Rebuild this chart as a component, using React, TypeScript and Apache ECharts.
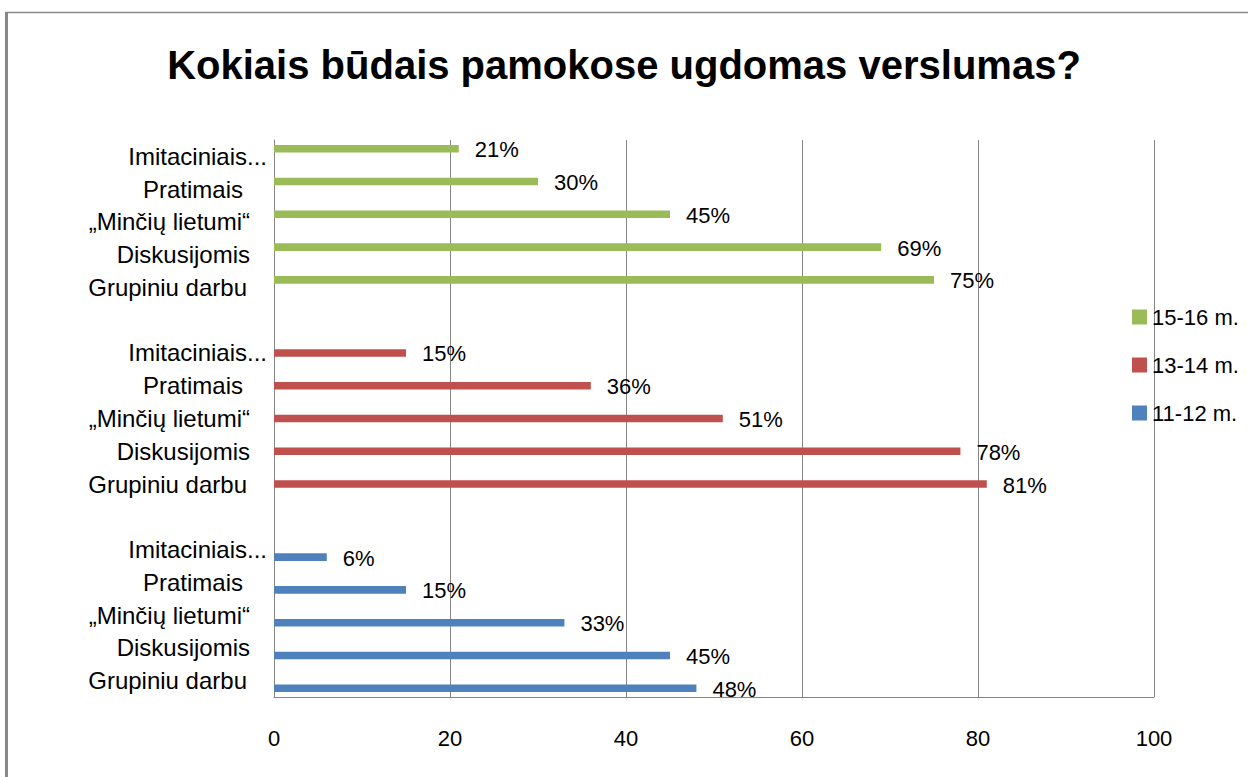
import React, { useEffect, useRef } from "react";
import * as echarts from "echarts";

// Method names, bottom to top within each age group
const methods = ["Grupiniu darbu", "Diskusijomis", "„Minčių lietumi“", "Pratimais", "Imitaciniais..."];
// Age groups (legend order, top to bottom)
const groups = ["15-16 m.", "13-14 m.", "11-12 m."];
// Values (%) per group, in the same order as methods
const values1516 = [75, 69, 45, 30, 21];
const values1314 = [81, 78, 51, 36, 15];
const values1112 = [48, 45, 33, 15, 6];
const colors = ["#9BBB59", "#C0504D", "#4F81BD"];
const xTicks = [0, 20, 40, 60, 80, 100];

// Build 17 category slots: blue group, blank, red group, blank, green group (bottom to top)
const categories: string[] = [...methods, "", ...methods, "", ...methods];
const pad = (arr: number[], start: number) => {
  const out: (number | null)[] = new Array(categories.length).fill(null);
  arr.forEach((v, i) => (out[start + i] = v));
  return out;
};
const seriesData = [pad(values1516, 12), pad(values1314, 6), pad(values1112, 0)];

const labelPad: Record<string, number> = {
  "Grupiniu darbu": 20,
  "Diskusijomis": 17,
  "„Minčių lietumi“": 17,
  "Pratimais": 24,
  "Imitaciniais...": 0,
};

export default function App() {
  const ref = useRef<HTMLDivElement>(null);
  useEffect(() => {
    if (!ref.current) return;
    const chart = echarts.init(ref.current, undefined, { renderer: "svg" });
    const font = "Liberation Sans";
    const rich: Record<string, any> = {};
    methods.forEach((m, i) => {
      rich["p" + i] = { padding: [0, labelPad[m], 0, 0], fontSize: 24, fontFamily: font, color: "#000" };
    });
    chart.setOption({
      animation: false,
      backgroundColor: "#fff",
      title: {
        text: "Kokiais būdais pamokose ugdomas verslumas?",
        left: "center",
        top: 40,
        textStyle: { fontFamily: font, fontSize: 40, fontWeight: "bold", color: "#000" },
      },
      legend: {
        orient: "vertical",
        left: 1127,
        top: 301,
        itemWidth: 15,
        itemHeight: 15,
        itemGap: 26,
        icon: "rect",
        data: groups,
        textStyle: { fontFamily: font, fontSize: 22, color: "#000", lineHeight: 22 },
      },
      grid: { left: 274, right: 94, top: 140, bottom: 80, containLabel: false },
      xAxis: {
        type: "value",
        min: xTicks[0],
        max: xTicks[xTicks.length - 1],
        interval: 20,
        axisLine: { show: true, lineStyle: { color: "#868686", width: 1 } },
        axisTick: { show: false },
        splitLine: { show: true, lineStyle: { color: "#868686", width: 1 } },
        axisLabel: { margin: 30, fontFamily: font, fontSize: 22, color: "#000" },
      },
      yAxis: {
        type: "category",
        data: categories,
        axisLine: { show: true, lineStyle: { color: "#868686", width: 1 } },
        axisTick: { show: false },
        splitLine: { show: false },
        axisLabel: {
          interval: 0,
          margin: 7,
          fontFamily: font,
          fontSize: 24,
          color: "#000",
          formatter: (v: string) => {
            const i = methods.indexOf(v);
            return i < 0 ? "" : `{p${i}|${v}}`;
          },
          rich,
        },
      },
      graphic: [
        { type: "line", shape: { x1: 6.5, y1: 12, x2: 6.5, y2: 777 }, style: { stroke: "#898989", lineWidth: 3 } },
        { type: "line", shape: { x1: 5, y1: 12.5, x2: 1248, y2: 12.5 }, style: { stroke: "#898989", lineWidth: 1.5 } },
      ],
      series: groups.map((g, i) => ({
        name: g,
        type: "bar",
        data: seriesData[i],
        barWidth: 7.6,
        barGap: "0%",
        itemStyle: { color: colors[i] },
        label: {
          show: true,
          position: "right",
          distance: 16,
          offset: [0, 1],
          formatter: "{c}%",
          fontFamily: font,
          fontSize: 22,
          color: "#000",
        },
      })),
    });
    return () => chart.dispose();
  }, []);
  return <div ref={ref} style={{ position: "absolute", left: 0, top: 0, width: 1248, height: 777 }} />;
}
